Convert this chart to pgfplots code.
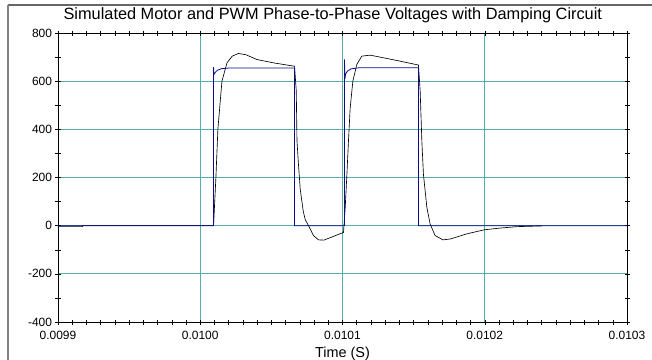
\documentclass[border=0pt]{standalone}
\usepackage{fontspec}
\setmainfont{Liberation Sans}
\usepackage{pgfplots}
\pgfplotsset{compat=1.18}
\definecolor{gridteal}{RGB}{80,175,175}
\definecolor{pwmblue}{RGB}{10,10,140}
\begin{document}
\begin{tikzpicture}
\path[use as bounding box] (-58bp,-38bp) rectangle (594bp,322bp);
\begin{axis}[
  at={(0,0)}, anchor=south west,
  scale only axis, width=569bp, height=289bp,
  xmin=0, xmax=400, ymin=-400, ymax=800,
  xtick={0,100,200,300,400},
  xticklabels={0.0099,0.0100,0.0101,0.0102,0.0103},
  ytick={-400,-200,0,200,400,600,800},
  yticklabels={-400,-200,0,200,400,600,800},
  minor x tick num=9, minor y tick num=1,
  tick align=center,
  major tick length=5bp, minor tick length=5bp,
  xmajorgrids, ymajorgrids,
  major grid style={gridteal, line width=1pt},
  every tick/.append style={black, line width=0.5pt},
  axis line style={black, line width=0.7pt},
  ticklabel style={font=\fontsize{12}{14}\selectfont},
  xticklabel style={yshift=-3bp},
  xlabel={Time (S)},
  xlabel style={font=\fontsize{14.5}{16}\selectfont, yshift=-1bp},
  title={Simulated Motor and PWM Phase-to-Phase Voltages with Damping Circuit},
  title style={font=\fontsize{16.4}{18}\selectfont, at={(0.483,1)}, yshift=0.5bp},
  clip=true,
]
\addplot[black, line width=0.65pt] coordinates {
(0,-4) (17.5,-4) (17.5,0) (109.35,0) (111.0,200) (112.4,400) (115.25,600)
(118.8,676) (122.5,704) (126.9,715) (132,710) (139.8,690) (151.5,676) (166.3,662)
(167.5,559) (168.0,352) (169.1,250) (170.3,150) (172.4,60) (173.8,25) (176.1,0)
(179.6,-41) (183.1,-59) (187.0,-60) (200.7,-28)
(201.9,75) (203.1,214) (204.2,352) (205.4,490) (207.3,601) (210.1,670) (213.6,704)
(219.5,708) (228.8,697) (238.2,686) (253.4,667)
(254.6,559) (255.8,350) (256.9,213) (259.3,76) (261.6,7) (265.1,-41) (270.6,-59)
(276.0,-55) (287.4,-34) (299.8,-17) (310.8,-10) (322.6,-4) (340.1,-1)
};
\addplot[pwmblue, line width=0.8pt] coordinates {
(0,0) (109.35,0) (109.35,658) (109.6,628) (110.5,636) (112.0,645) (115.0,652)
(121.0,655) (166.3,655) (166.3,0) (201.4,0) (201.4,690) (201.7,610) (202.2,630)
(203.5,642) (206.0,651) (212.0,656) (253.4,656) (253.4,0) (400,0)
};
\end{axis}
\draw[gray!80!black, line width=1.2pt] (-50bp,317bp) -- (594bp,317bp);
\draw[gray, line width=1.5pt] (-50bp,317bp) -- (-50bp,-38bp);
\end{tikzpicture}
\end{document}
